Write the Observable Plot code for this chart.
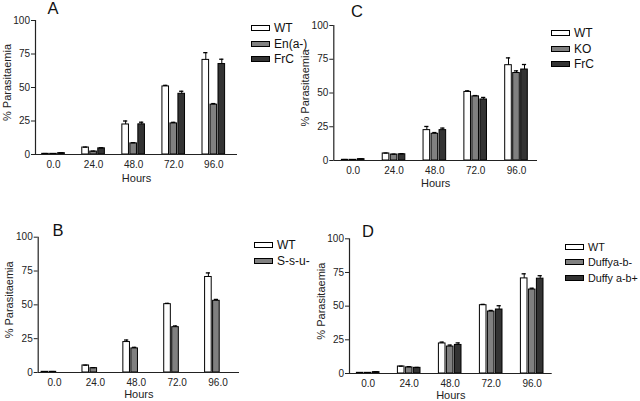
<!DOCTYPE html>
<html><head><meta charset="utf-8">
<script src="https://cdn.jsdelivr.net/npm/d3@7"></script>
<script src="https://cdn.jsdelivr.net/npm/@observablehq/plot@0.6"></script>
<style>
body{margin:0;background:#fff;}
#wrap{position:relative;width:640px;height:401px;overflow:hidden;background:#fff;font-family:"Liberation Sans",Arial,sans-serif;}
#wrap svg{position:absolute;left:0;top:0;}
.letter{position:absolute;font-size:16.5px;line-height:16px;color:#111;transform:translateX(-50%);}
.lg{position:absolute;display:flex;align-items:center;height:12px;font-size:12px;line-height:12px;color:#111;white-space:nowrap;}
.sw{width:19px;height:6px;border:1px solid #000;box-sizing:border-box;margin-right:4px;}
</style></head><body><div id="wrap"></div>
<script>
// ---- shared axis data ----
const hours = [0, 24, 48, 72, 96];
const hourLabels = ["0.0", "24.0", "48.0", "72.0", "96.0"];
const yTicks = [0, 25, 50, 75, 100];
const fills = ["#ffffff", "#808080", "#333333"];

// ---- Panel A ----
const seriesA = ["WT", "En(a-)", "FrC"];
const aWT = [0.5, 5.2, 22.4, 50.8, 70.6];
const aWTerr = [0.2, 0.3, 2.6, 0.8, 5.4];
const aEn = [0.5, 2.2, 8.3, 23.2, 37.2];
const aEnErr = [0.1, 0.3, 0.5, 0.8, 0.8];
const aFrC = [1.0, 4.6, 22.5, 45.3, 67.5];
const aFrCerr = [0.2, 0.4, 1.6, 1.9, 3.6];

// ---- Panel B ----
const seriesB = ["WT", "S-s-u-"];
const bWT = [0.5, 5.2, 22.5, 50.5, 70.6];
const bWTerr = [0.1, 0.2, 1.5, 0.6, 3.0];
const bS = [0.5, 3.2, 17.8, 33.5, 53.0];
const bSerr = [0.2, 0.4, 0.8, 0.9, 1.0];

// ---- Panel C ----
const seriesC = ["WT", "KO", "FrC"];
const cWT = [0.5, 5.2, 22.5, 50.8, 70.6];
const cWTerr = [0.2, 0.3, 2.7, 0.8, 5.4];
const cKO = [0.5, 4.4, 19.8, 47.5, 64.8];
const cKOerr = [0.1, 0.3, 0.9, 0.6, 1.6];
const cFrC = [1.0, 4.6, 22.5, 45.2, 67.4];
const cFrCerr = [0.2, 0.4, 1.5, 1.5, 3.7];

// ---- Panel D ----
const seriesD = ["WT", "Duffya-b-", "Duffy a-b+"];
const dWT = [0.5, 5.2, 22.3, 50.7, 70.6];
const dWTerr = [0.1, 0.2, 1.0, 0.6, 3.4];
const dM = [0.5, 4.5, 20.0, 46.0, 62.3];
const dMerr = [0.1, 0.6, 1.1, 0.8, 1.0];
const dP = [1.0, 4.2, 21.2, 47.5, 70.4];
const dPerr = [0.2, 0.3, 1.5, 2.8, 2.2];

// ---- layout (pixels) ----
const W = 640, H = 401;
const panels = [
  {letter: "A", series: seriesA, vals: [aWT, aEn, aFrC], errs: [aWTerr, aEnErr, aFrCerr],
   frame: [35, 237, 20, 154], c0: 53, c96: 213.3, shift: 0, hoursDy: 23.5,
   letterXY: [53, 0], legendXY: [251, 28], legendFont: 12},
  {letter: "B", series: seriesB, vals: [bWT, bS], errs: [bWTerr, bSerr],
   frame: [37.7, 239, 236.7, 372], c0: 54, c96: 217.5, shift: -0.7, hoursDy: 21.5,
   letterXY: [58, 222], legendXY: [254, 245], legendFont: 12},
  {letter: "C", series: seriesC, vals: [cWT, cKO, cFrC], errs: [cWTerr, cKOerr, cFrCerr],
   frame: [333.3, 537, 25, 160], c0: 352.7, c96: 516, shift: 0, hoursDy: 23,
   letterXY: [357, 2.5], legendXY: [551, 33], legendFont: 12},
  {letter: "D", series: seriesD, vals: [dWT, dM, dP], errs: [dWTerr, dMerr, dPerr],
   frame: [349, 551.7, 238.3, 373], c0: 367.7, c96: 531.7, shift: 0, hoursDy: 21.5,
   letterXY: [368, 222.5], legendXY: [565, 246.5], legendFont: 10.8}
];
const slotPx = 8, barPx = 6.6, capPx = 4.2, legendStep = 15.5;

const wrap = document.getElementById("wrap");

for (const p of panels) {
  const [x0, x1, y0, y1] = p.frame;
  const k = (p.c96 - p.c0) / 96; // px per hour
  const xDomain = [-(p.c0 - x0) / k, 96 + (x1 - p.c96) / k];
  const slotH = slotPx / k, barH = barPx / k, capH = capPx / k;
  const n = p.series.length;
  const rows = [];
  p.series.forEach((s, j) => {
    hours.forEach((h, i) => {
      rows.push({hour: h, series: s, value: p.vals[j][i], err: p.errs[j][i],
        center: h + (j - (n - 1) / 2 + p.shift) * slotH});
    });
  });

  const chart = Plot.plot({
    width: W, height: H,
    marginLeft: x0, marginRight: W - x1, marginTop: y0, marginBottom: H - y1,
    x: {domain: xDomain},
    y: {domain: [0, 100]},
    color: {domain: p.series, range: fills.slice(0, n)},
    style: {background: "transparent", overflow: "visible", fontFamily: "Liberation Sans, Arial, sans-serif", color: "#1a1a1a"},
    marks: [
      Plot.rect(rows, {x1: d => d.center - barH / 2, x2: d => d.center + barH / 2, y1: 0, y2: "value",
        fill: "series", stroke: "#000", strokeWidth: 1}),
      Plot.ruleX(rows, {x: "center", y1: "value", y2: d => d.value + d.err, stroke: "#000", strokeWidth: 1}),
      Plot.ruleY(rows, {y: d => d.value + d.err, x1: d => d.center - capH / 2, x2: d => d.center + capH / 2,
        stroke: "#000", strokeWidth: 1.3}),
      Plot.ruleY([0], {stroke: "#222", strokeWidth: 1.2}),
      Plot.ruleX([xDomain[0]], {stroke: "#222", strokeWidth: 1.2}),
      Plot.axisY({ticks: yTicks, tickSize: 4, tickPadding: 1.5, fontSize: 10, label: null, color: "#222"}),
      Plot.axisX({ticks: hours, tickFormat: d => hourLabels[hours.indexOf(d)], tickSize: 0, tickPadding: 6.5,
        fontSize: 10, label: null, color: "#222"}),
      Plot.text(["% Parasitaemia"], {text: d => d, frameAnchor: "left", rotate: -90, textAnchor: "middle",
        lineAnchor: "middle", dx: -28.5, dy: -5, fontSize: 11, fill: "#222"}),
      Plot.text(["Hours"], {text: d => d, frameAnchor: "bottom", textAnchor: "middle", lineAnchor: "middle",
        dy: p.hoursDy, fontSize: 11, fill: "#222"})
    ]
  });
  wrap.appendChild(chart);

  const L = document.createElement("div");
  L.className = "letter";
  L.textContent = p.letter;
  L.style.left = p.letterXY[0] + "px";
  L.style.top = p.letterXY[1] + "px";
  wrap.appendChild(L);

  p.series.forEach((s, j) => {
    const row = document.createElement("div");
    row.className = "lg";
    row.style.left = p.legendXY[0] + "px";
    row.style.top = (p.legendXY[1] + j * legendStep - 6) + "px";
    row.style.fontSize = p.legendFont + "px";
    const sw = document.createElement("div");
    sw.className = "sw";
    sw.style.background = fills[j];
    const t = document.createElement("span");
    t.textContent = s;
    row.appendChild(sw);
    row.appendChild(t);
    wrap.appendChild(row);
  });
}
</script></body></html>
